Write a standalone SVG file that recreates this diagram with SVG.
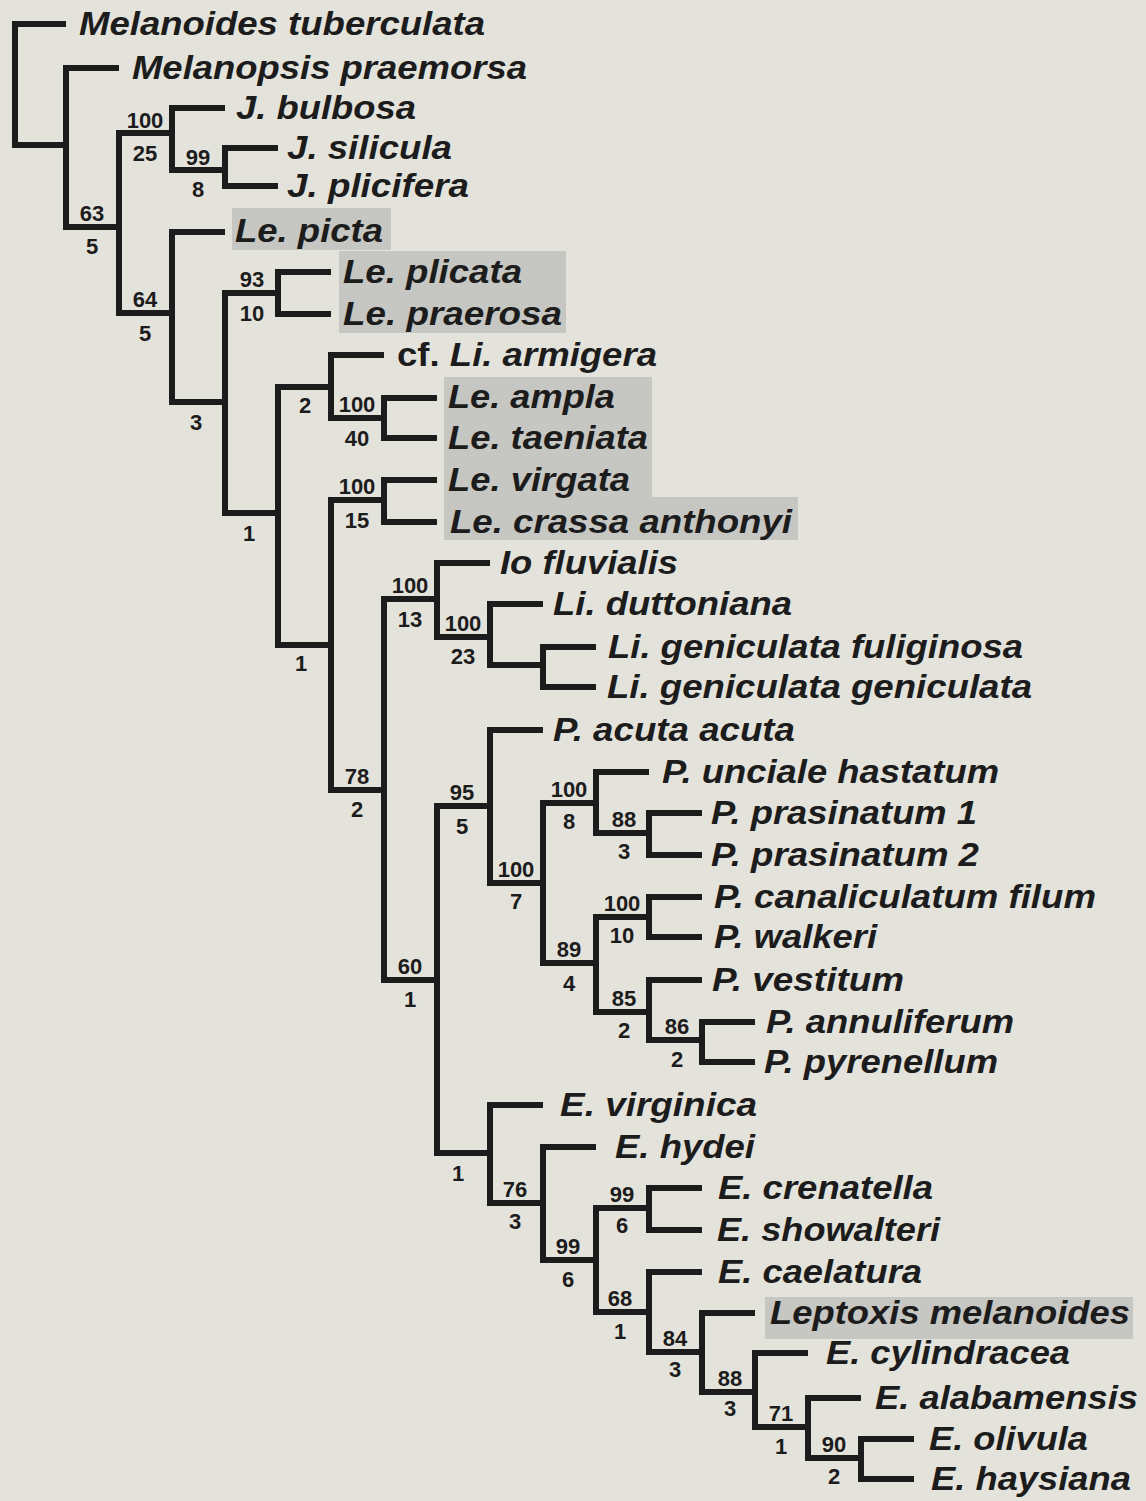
<svg xmlns="http://www.w3.org/2000/svg" width="1146" height="1501" viewBox="0 0 1146 1501">
<style>
.bg{fill:#e4e3db}
.hl{fill:#c6c6c2}
.br{fill:none;stroke:#1c1c1c;stroke-width:6;stroke-linejoin:miter;stroke-linecap:butt}
.tx{font-family:"Liberation Sans",Arial,sans-serif;font-weight:bold;font-style:italic;font-size:33px;fill:#1c1c1c}
.up{font-style:normal}
.sp{font-family:"Liberation Sans",Arial,sans-serif;font-weight:bold;font-size:22px;fill:#1c1c1c;text-anchor:middle}
</style>
<rect class="bg" x="0" y="0" width="1146" height="1501"/>
<g id="highlights">
<rect class="hl" x="232" y="208" width="159" height="42"/>
<rect class="hl" x="339" y="251" width="227" height="82"/>
<path class="hl" d="M444,377 H652 V497 H798 V540 H444 Z"/>
<rect class="hl" x="765" y="1297" width="368" height="42"/>
</g>
<g id="connectors">
<path class="br" d="M66,24 H15 V145 H66"/>
<path class="br" d="M119,68 H66 V227 H119"/>
<path class="br" d="M172,133 H119 V313 H172"/>
<path class="br" d="M225,108 H172 V170 H225"/>
<path class="br" d="M278,148 H225 V186 H278"/>
<path class="br" d="M225,232 H172 V402 H225"/>
<path class="br" d="M278,293 H225 V513 H278"/>
<path class="br" d="M331,272 H278 V314 H331"/>
<path class="br" d="M331,387 H278 V645 H331"/>
<path class="br" d="M384,355 H331 V418 H384"/>
<path class="br" d="M437,398 H384 V438 H437"/>
<path class="br" d="M384,500 H331 V790 H384"/>
<path class="br" d="M437,480 H384 V522 H437"/>
<path class="br" d="M437,599 H384 V980 H437"/>
<path class="br" d="M490,563 H437 V637 H490"/>
<path class="br" d="M543,604 H490 V665 H543"/>
<path class="br" d="M596,647 H543 V687 H596"/>
<path class="br" d="M490,806 H437 V1153 H490"/>
<path class="br" d="M543,730 H490 V883 H543"/>
<path class="br" d="M596,803 H543 V963 H596"/>
<path class="br" d="M649,772 H596 V833 H649"/>
<path class="br" d="M702,813 H649 V855 H702"/>
<path class="br" d="M649,917 H596 V1012 H649"/>
<path class="br" d="M702,897 H649 V937 H702"/>
<path class="br" d="M702,980 H649 V1040 H702"/>
<path class="br" d="M755,1022 H702 V1062 H755"/>
<path class="br" d="M543,1105 H490 V1203 H543"/>
<path class="br" d="M596,1147 H543 V1260 H596"/>
<path class="br" d="M649,1208 H596 V1312 H649"/>
<path class="br" d="M702,1188 H649 V1230 H702"/>
<path class="br" d="M702,1272 H649 V1352 H702"/>
<path class="br" d="M755,1313 H702 V1392 H755"/>
<path class="br" d="M808,1353 H755 V1427 H808"/>
<path class="br" d="M861,1398 H808 V1458 H861"/>
<path class="br" d="M914,1439 H861 V1479 H914"/>
</g>
<g id="taxa">
<g id="t1"><text class="tx" x="79" y="35" textLength="406" lengthAdjust="spacingAndGlyphs">Melanoides tuberculata</text></g>
<g id="t2"><text class="tx" x="132" y="79" textLength="395" lengthAdjust="spacingAndGlyphs">Melanopsis praemorsa</text></g>
<g id="t3"><text class="tx" x="236" y="119" textLength="180" lengthAdjust="spacingAndGlyphs">J. bulbosa</text></g>
<g id="t4"><text class="tx" x="287" y="159" textLength="165" lengthAdjust="spacingAndGlyphs">J. silicula</text></g>
<g id="t5"><text class="tx" x="287" y="197" textLength="182" lengthAdjust="spacingAndGlyphs">J. plicifera</text></g>
<g id="t6"><text class="tx" x="235" y="242" textLength="148" lengthAdjust="spacingAndGlyphs">Le. picta</text></g>
<g id="t7"><text class="tx" x="343" y="283" textLength="179" lengthAdjust="spacingAndGlyphs">Le. plicata</text></g>
<g id="t8"><text class="tx" x="343" y="325" textLength="219" lengthAdjust="spacingAndGlyphs">Le. praerosa</text></g>
<g id="t9"><text class="tx" x="397" y="366" textLength="260" lengthAdjust="spacingAndGlyphs"><tspan class="up">cf. </tspan>Li. armigera</text></g>
<g id="t10"><text class="tx" x="448" y="408" textLength="167" lengthAdjust="spacingAndGlyphs">Le. ampla</text></g>
<g id="t11"><text class="tx" x="448" y="449" textLength="200" lengthAdjust="spacingAndGlyphs">Le. taeniata</text></g>
<g id="t12"><text class="tx" x="448" y="491" textLength="182" lengthAdjust="spacingAndGlyphs">Le. virgata</text></g>
<g id="t13"><text class="tx" x="450" y="533" textLength="342" lengthAdjust="spacingAndGlyphs">Le. crassa anthonyi</text></g>
<g id="t14"><text class="tx" x="500" y="574" textLength="178" lengthAdjust="spacingAndGlyphs">Io fluvialis</text></g>
<g id="t15"><text class="tx" x="553" y="615" textLength="239" lengthAdjust="spacingAndGlyphs">Li. duttoniana</text></g>
<g id="t16"><text class="tx" x="608" y="658" textLength="415" lengthAdjust="spacingAndGlyphs">Li. geniculata fuliginosa</text></g>
<g id="t17"><text class="tx" x="607" y="698" textLength="425" lengthAdjust="spacingAndGlyphs">Li. geniculata geniculata</text></g>
<g id="t18"><text class="tx" x="553" y="741" textLength="242" lengthAdjust="spacingAndGlyphs">P. acuta acuta</text></g>
<g id="t19"><text class="tx" x="662" y="783" textLength="337" lengthAdjust="spacingAndGlyphs">P. unciale hastatum</text></g>
<g id="t20"><text class="tx" x="711" y="824" textLength="266" lengthAdjust="spacingAndGlyphs">P. prasinatum 1</text></g>
<g id="t21"><text class="tx" x="711" y="866" textLength="268" lengthAdjust="spacingAndGlyphs">P. prasinatum 2</text></g>
<g id="t22"><text class="tx" x="714" y="908" textLength="382" lengthAdjust="spacingAndGlyphs">P. canaliculatum filum</text></g>
<g id="t23"><text class="tx" x="714" y="948" textLength="163" lengthAdjust="spacingAndGlyphs">P. walkeri</text></g>
<g id="t24"><text class="tx" x="712" y="991" textLength="192" lengthAdjust="spacingAndGlyphs">P. vestitum</text></g>
<g id="t25"><text class="tx" x="766" y="1033" textLength="248" lengthAdjust="spacingAndGlyphs">P. annuliferum</text></g>
<g id="t26"><text class="tx" x="764" y="1073" textLength="234" lengthAdjust="spacingAndGlyphs">P. pyrenellum</text></g>
<g id="t27"><text class="tx" x="560" y="1116" textLength="197" lengthAdjust="spacingAndGlyphs">E. virginica</text></g>
<g id="t28"><text class="tx" x="615" y="1158" textLength="140" lengthAdjust="spacingAndGlyphs">E. hydei</text></g>
<g id="t29"><text class="tx" x="718" y="1199" textLength="215" lengthAdjust="spacingAndGlyphs">E. crenatella</text></g>
<g id="t30"><text class="tx" x="717" y="1241" textLength="223" lengthAdjust="spacingAndGlyphs">E. showalteri</text></g>
<g id="t31"><text class="tx" x="718" y="1283" textLength="204" lengthAdjust="spacingAndGlyphs">E. caelatura</text></g>
<g id="t32"><text class="tx" x="770" y="1324" textLength="360" lengthAdjust="spacingAndGlyphs">Leptoxis melanoides</text></g>
<g id="t33"><text class="tx" x="826" y="1364" textLength="244" lengthAdjust="spacingAndGlyphs">E. cylindracea</text></g>
<g id="t34"><text class="tx" x="875" y="1409" textLength="263" lengthAdjust="spacingAndGlyphs">E. alabamensis</text></g>
<g id="t35"><text class="tx" x="929" y="1450" textLength="159" lengthAdjust="spacingAndGlyphs">E. olivula</text></g>
<g id="t36"><text class="tx" x="931" y="1490" textLength="200" lengthAdjust="spacingAndGlyphs">E. haysiana</text></g>
</g>
<g id="support">
<g id="nB"><text class="sp" x="92" y="221">63</text><text class="sp" x="92" y="254">5</text></g>
<g id="nC"><text class="sp" x="145" y="128">100</text><text class="sp" x="145" y="161">25</text></g>
<g id="nE"><text class="sp" x="198" y="165">99</text><text class="sp" x="198" y="197">8</text></g>
<g id="nD"><text class="sp" x="145" y="307">64</text><text class="sp" x="145" y="341">5</text></g>
<g id="nF"><text class="sp" x="196" y="430">3</text></g>
<g id="nG"><text class="sp" x="252" y="287">93</text><text class="sp" x="252" y="321">10</text></g>
<g id="nH"><text class="sp" x="249" y="541">1</text></g>
<g id="nI"><text class="sp" x="305" y="413">2</text></g>
<g id="nK"><text class="sp" x="357" y="412">100</text><text class="sp" x="357" y="446">40</text></g>
<g id="nJ"><text class="sp" x="301" y="671">1</text></g>
<g id="nL"><text class="sp" x="357" y="494">100</text><text class="sp" x="357" y="528">15</text></g>
<g id="nM"><text class="sp" x="357" y="784">78</text><text class="sp" x="357" y="817">2</text></g>
<g id="nN"><text class="sp" x="410" y="593">100</text><text class="sp" x="410" y="627">13</text></g>
<g id="nP"><text class="sp" x="463" y="631">100</text><text class="sp" x="463" y="664">23</text></g>
<g id="nO"><text class="sp" x="410" y="974">60</text><text class="sp" x="410" y="1007">1</text></g>
<g id="nR"><text class="sp" x="462" y="800">95</text><text class="sp" x="462" y="834">5</text></g>
<g id="nT"><text class="sp" x="516" y="877">100</text><text class="sp" x="516" y="909">7</text></g>
<g id="nU"><text class="sp" x="569" y="797">100</text><text class="sp" x="569" y="829">8</text></g>
<g id="nW"><text class="sp" x="624" y="827">88</text><text class="sp" x="624" y="859">3</text></g>
<g id="nV"><text class="sp" x="569" y="957">89</text><text class="sp" x="569" y="991">4</text></g>
<g id="nX"><text class="sp" x="622" y="911">100</text><text class="sp" x="622" y="943">10</text></g>
<g id="nY"><text class="sp" x="624" y="1006">85</text><text class="sp" x="624" y="1038">2</text></g>
<g id="nZ"><text class="sp" x="677" y="1034">86</text><text class="sp" x="677" y="1067">2</text></g>
<g id="nS"><text class="sp" x="458" y="1181">1</text></g>
<g id="nAA"><text class="sp" x="515" y="1197">76</text><text class="sp" x="515" y="1229">3</text></g>
<g id="nAB"><text class="sp" x="568" y="1254">99</text><text class="sp" x="568" y="1287">6</text></g>
<g id="nAC"><text class="sp" x="622" y="1202">99</text><text class="sp" x="622" y="1233">6</text></g>
<g id="nAD"><text class="sp" x="620" y="1306">68</text><text class="sp" x="620" y="1339">1</text></g>
<g id="nAE"><text class="sp" x="675" y="1346">84</text><text class="sp" x="675" y="1377">3</text></g>
<g id="nAF"><text class="sp" x="730" y="1386">88</text><text class="sp" x="730" y="1416">3</text></g>
<g id="nAG"><text class="sp" x="781" y="1421">71</text><text class="sp" x="781" y="1454">1</text></g>
<g id="nAH"><text class="sp" x="834" y="1452">90</text><text class="sp" x="834" y="1484">2</text></g>
</g>
</svg>
